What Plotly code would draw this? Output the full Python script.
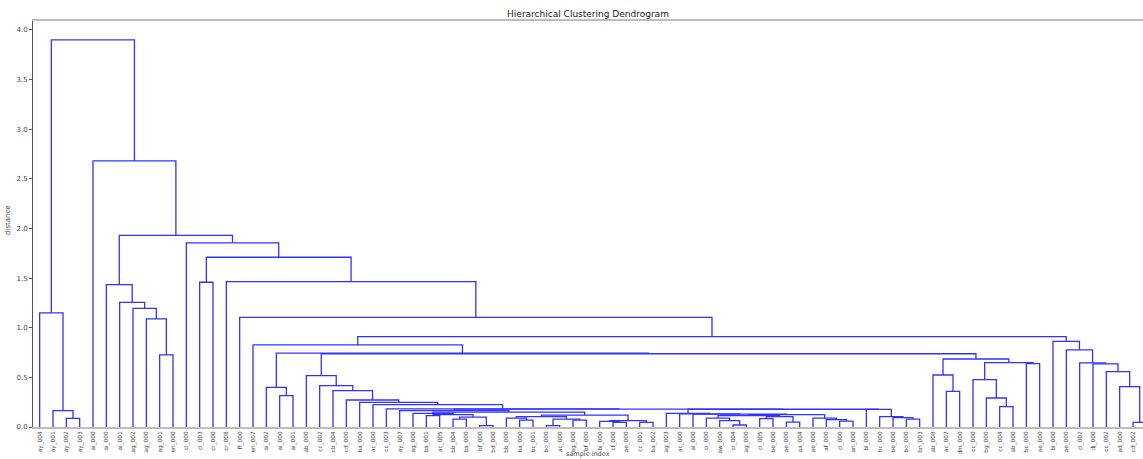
import plotly.graph_objects as go

# ---------------- data ----------------
leaf_labels = [
    "ay_004", "ay_001", "ay_002", "ay_003", "ai_000", "ai_000", "ai_001", "ag_002", "ag_000", "ag_001",
    "en_000", "cl_000", "cl_003", "cr_000", "cr_008", "ff_000", "en_007", "ai_002", "ai_000", "ai_001",
    "ab_000", "cc_002", "cb_004", "cd_000", "ba_000", "ac_000", "cc_003", "ay_007", "ag_000", "ba_001",
    "ac_005", "bb_004", "ba_000", "bf_000", "bd_000", "bb_000", "ba_000", "bc_001", "bo_000", "ac_000",
    "ag_000", "bf_000", "bi_000", "cf_000", "ae_000", "cc_001", "ba_002", "ag_003", "ac_000", "al_000",
    "ci_000", "aw_000", "ci_004", "ag_000", "ci_005", "be_000", "ae_000", "aa_004", "ae_000", "af_000",
    "cl_000", "an_000", "bl_000", "bc_000", "be_000", "bo_000", "bn_003", "ab_008", "ac_007", "dm_000",
    "cc_000", "bg_000", "cc_004", "ab_000", "bc_000", "ae_000", "bl_000", "ae_000", "cl_002", "dj_000",
    "cc_002", "ad_000", "cd_002", "a_000",
]

# merges (bottom-up): node name, left child, right child, merge distance
# int = leaf index, str = earlier merge
node_name = [
    "n23", "n1", "n0", "n910", "n8", "n7", "n6", "n5", "n1213", "n1819", "n17",
    "n2930", "n3132", "n3334", "n3134", "n2934", "n28", "n3637", "n35", "n3839", "n4041",
    "n3841", "n3541", "n4344", "n42", "n4546", "n4246", "n3546", "nL2", "nL1",
    "n5253", "n51", "n50", "n5455", "n5657", "n5457", "n5057", "n6061", "n59", "n58",
    "nY", "n49", "n48", "n47", "n6566", "n64", "n63", "n62", "nQ", "nM",
    "n26", "n25", "n24", "n23b", "n22", "n21", "n20",
    "n6869", "n67", "n7273", "n71", "n70", "n7475", "nF2", "nF", "nE", "nC", "nB",
    "n8283", "n81", "n80", "n79", "n78", "n77", "n76", "nA",
    "n15", "n14", "nU1213", "n11", "n5all", "n4", "root",
]
node_left = [
    2, 1, 0, 9, 8, 7, 6, 5, 12, 18, 17,
    29, 31, 33, "n3132", "n2930", 28, 36, 35, 38, 40,
    "n3839", "n35", 43, 42, 45, "n42", "n3541", "n28", 27,
    52, 51, 50, 54, 56, "n5455", "n50", 60, 59, 58,
    "n5057", 49, 48, 47, 65, 64, 63, 62, "n47", "nL1",
    26, 25, 24, 23, 22, 21, 20,
    68, 67, 72, 71, 70, 74, "n70", "n67", "n20", "n17", 16,
    82, 81, 80, 79, 78, 77, 76, "nB",
    15, 14, "n1213", 11, "n5", 4, "n0",
]
node_right = [
    3, "n23", "n1", 10, "n910", "n8", "n7", "n6", 13, 19, "n1819",
    30, 32, 34, "n3334", "n3134", "n2934", 37, "n3637", 39, 41,
    "n4041", "n3841", 44, "n4344", 46, "n4546", "n4246", "n3546", "nL2",
    53, "n5253", "n51", 55, 57, "n5657", "n5457", 61, "n6061", "n59",
    "n58", "nY", "n49", "n48", 66, "n6566", "n64", "n63", "n62", "nQ",
    "nM", "n26", "n25", "n24", "n23b", "n22", "n21",
    69, "n6869", 73, "n7273", "n71", 75, "n7475", "nF2", "nF", "nE", "nC",
    83, "n8283", "n81", "n80", "n79", "n78", "n77", "n76",
    "nA", "n15", "n14", "nU1213", "n11", "n5all", "n4",
]
node_height = [
    0.087, 0.165, 1.15, 0.726, 1.089, 1.196, 1.256, 1.435, 1.458, 0.316, 0.40,
    0.115, 0.08, 0.013, 0.10, 0.125, 0.137, 0.07, 0.09, 0.013, 0.07,
    0.08, 0.104, 0.046, 0.057, 0.046, 0.065, 0.12, 0.15, 0.165,
    0.02, 0.065, 0.09, 0.085, 0.05, 0.105, 0.115, 0.06, 0.075, 0.09,
    0.125, 0.13, 0.133, 0.137, 0.08, 0.095, 0.105, 0.178, 0.179, 0.18,
    0.183, 0.225, 0.248, 0.272, 0.366, 0.416, 0.517,
    0.359, 0.524, 0.205, 0.292, 0.477, 0.638, 0.648, 0.685, 0.738, 0.745, 0.827,
    0.046, 0.406, 0.557, 0.635, 0.645, 0.776, 0.863, 0.91,
    1.105, 1.465, 1.71, 1.855, 1.93, 2.68, 3.9,
]

# ---------------- dendrogram geometry ----------------
pos = {}
hgt = {}


def get(c):
    if isinstance(c, int):
        return 5 + 10 * c, 0.0
    return pos[c], hgt[c]


xs, ys = [], []
for name, l, r, h in zip(node_name, node_left, node_right, node_height):
    xl, hl = get(l)
    xr, hr = get(r)
    pos[name] = (xl + xr) / 2
    hgt[name] = h
    xs += [xl, xl, xr, xr, None]
    ys += [hl, h, h, hr, None]

n_leaves = len(leaf_labels)
tick_vals = [5 + 10 * i for i in range(n_leaves)]

fig = go.Figure()
fig.add_trace(go.Scatter(
    x=xs, y=ys, mode="lines",
    line=dict(color="rgb(50,50,255)", width=1.3),
    hoverinfo="skip", showlegend=False,
))

W, H = 1143, 459
L, R, T, B = 33, 0, 21, 32
fig.update_layout(
    width=W, height=H,
    margin=dict(l=L, r=R, t=T, b=B),
    paper_bgcolor="white", plot_bgcolor="white",
    font=dict(family="DejaVu Sans", color="#333"),
    title=dict(text="Hierarchical Clustering Dendrogram", x=0.5, xref="paper",
               y=1 - 14 / H, yanchor="middle", font=dict(size=9, color="#222")),
    showlegend=False,
)
fig.update_xaxes(
    range=[0, 832.5], tickvals=tick_vals, ticktext=leaf_labels,
    tickangle=-90, tickfont=dict(size=5.8, color="#444"),
    showgrid=False, zeroline=False, showline=True, linecolor="#bdbdbd",
    linewidth=2, mirror=True, ticks="", automargin=False,
)
fig.update_yaxes(
    range=[0, 4.09], tickvals=[0, 0.5, 1, 1.5, 2, 2.5, 3, 3.5, 4],
    ticktext=["0.0", "0.5", "1.0", "1.5", "2.0", "2.5", "3.0", "3.5", "4.0"],
    tickfont=dict(size=7, color="#444"), ticks="outside", ticklen=3,
    tickcolor="#555", showgrid=False, zeroline=False, showline=True,
    linecolor="#555", linewidth=1, automargin=False,
)
plot_h = H - T - B
fig.add_annotation(text="sample index", xref="paper", yref="paper",
                   x=0.5, y=-(454 - (H - B)) / plot_h, showarrow=False,
                   font=dict(size=6.5, color="#444"), yanchor="middle")
fig.add_annotation(text="distance", xref="paper", yref="paper",
                   x=(8 - L) / (W - L - R), y=(H - B - 220) / plot_h,
                   textangle=-90, showarrow=False,
                   font=dict(size=7, color="#444"), xanchor="center")

fig.write_html(
    "out.html",
    config={"displayModeBar": False},
    post_script="document.body.style.margin='0px';document.body.style.overflow='hidden';",
)
